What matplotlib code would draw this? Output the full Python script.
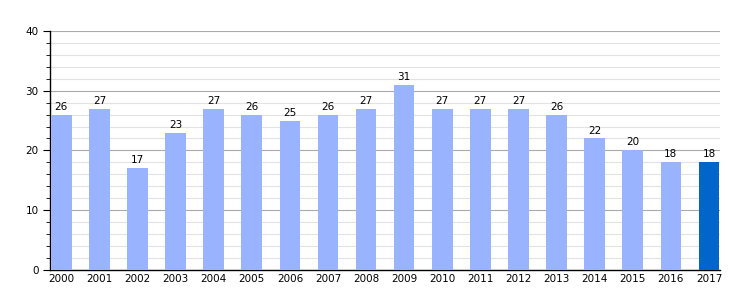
import matplotlib
matplotlib.use("Agg")
import matplotlib.pyplot as plt
import numpy as np

years = [str(y) for y in range(2000, 2018)]
values = [26, 27, 17, 23, 27, 26, 25, 26, 27, 31, 27, 27, 27, 26, 22, 20, 18, 18]

LIGHT = "#99b3ff"
DARK = "#0066cc"

fig = plt.figure(figsize=(7.5, 3), dpi=100)
ax = fig.add_axes([0.067, 0.1, 0.893, 0.797])

x = np.arange(len(years))
colors = [LIGHT] * (len(years) - 1) + [DARK]
bars = ax.bar(x, values, width=0.54, color=colors, zorder=3)

for bar, val in zip(bars, values):
    ax.text(bar.get_x() + bar.get_width() / 2, val + 0.5, f"{val}",
            ha="center", va="bottom", fontsize=7.5, zorder=4)

ax.set_ylim(0, 40)
ax.set_xlim(-0.29, len(years) - 1 + 0.29)
ax.set_yticks([0, 10, 20, 30, 40])
ax.set_yticks(np.arange(0, 41, 2), minor=True)
ax.set_xticks(x)
ax.set_xticklabels(years)
ax.tick_params(axis="both", labelsize=7.5)
ax.tick_params(axis="x", length=0, pad=3)
ax.tick_params(axis="y", which="major", length=5, direction="out")
ax.tick_params(axis="y", which="minor", length=3, direction="out")

ax.grid(True, axis="y", which="major", color="#aaaaaa", linewidth=0.8, zorder=0)
ax.grid(True, axis="y", which="minor", color="#e2e2e2", linewidth=0.8, zorder=0)
ax.set_axisbelow(True)

for side in ("top", "right"):
    ax.spines[side].set_visible(False)
ax.spines["left"].set_linewidth(1)
ax.spines["bottom"].set_linewidth(1)

fig.savefig("out.png", dpi=100)
